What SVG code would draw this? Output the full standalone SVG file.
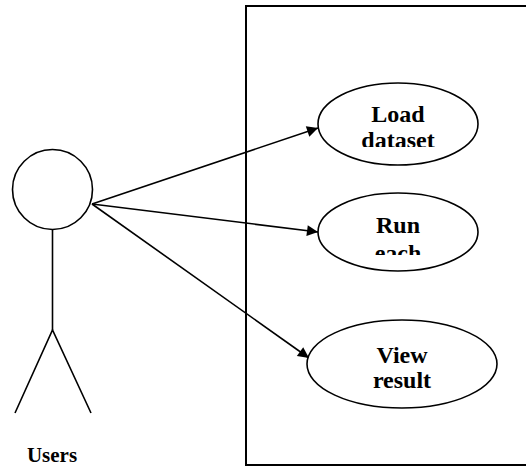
<svg xmlns="http://www.w3.org/2000/svg" width="526" height="468" viewBox="0 0 526 468">
<defs>
<style>
.ln{stroke:#000;stroke-width:1.6;fill:none}
.uc{fill:#fff;stroke:#000;stroke-width:1.6}
.t{font-weight:bold;font-size:24px;fill:#000;text-anchor:middle}
</style>
<marker id="ah" viewBox="0 0 10 10" refX="10" refY="5" markerWidth="16" markerHeight="11" markerUnits="userSpaceOnUse" orient="auto">
<path d="M0,0 L10,5 L0,10 z" fill="#000"/>
</marker>
<clipPath id="c1"><rect x="300" y="80" width="200" height="67"/></clipPath>
<clipPath id="c2"><rect x="300" y="190" width="200" height="65"/></clipPath>
</defs>
<rect id="system" x="246" y="6" width="300" height="459" fill="none" stroke="#000" stroke-width="2"/>
<g id="actor">
<circle cx="52.5" cy="189.5" r="40" class="ln"/>
<line x1="52.5" y1="230" x2="52.5" y2="330" class="ln"/>
<polyline points="15,413 52.5,330 91,413" class="ln"/>
<text x="52" y="462" class="t" font-family="Times New Roman, Liberation Serif, serif" style="font-size:21px">Users</text>
</g>
<g id="connectors">
<line x1="92" y1="204" x2="318" y2="128" class="ln" marker-end="url(#ah)"/>
<line x1="92" y1="204" x2="318" y2="232" class="ln" marker-end="url(#ah)"/>
<line x1="92" y1="204" x2="309" y2="358" class="ln" marker-end="url(#ah)"/>
</g>
<g id="uc1">
<ellipse cx="398" cy="124" rx="80" ry="41" class="uc"/>
<g clip-path="url(#c1)">
<text x="398" y="122" class="t" font-family="Times New Roman, Liberation Serif, serif">Load</text>
<text x="398" y="148" class="t" font-family="Times New Roman, Liberation Serif, serif">dataset</text>
</g>
</g>
<g id="uc2">
<ellipse cx="398" cy="232" rx="80" ry="39" class="uc"/>
<g clip-path="url(#c2)">
<text x="398" y="233" class="t" font-family="Times New Roman, Liberation Serif, serif">Run</text>
<text x="398" y="261" class="t" font-family="Times New Roman, Liberation Serif, serif">each</text>
</g>
</g>
<g id="uc3">
<ellipse cx="402" cy="364" rx="95" ry="44" class="uc"/>
<text x="402" y="363" class="t" font-family="Times New Roman, Liberation Serif, serif">View</text>
<text x="402" y="388" class="t" font-family="Times New Roman, Liberation Serif, serif">result</text>
</g>
</svg>
